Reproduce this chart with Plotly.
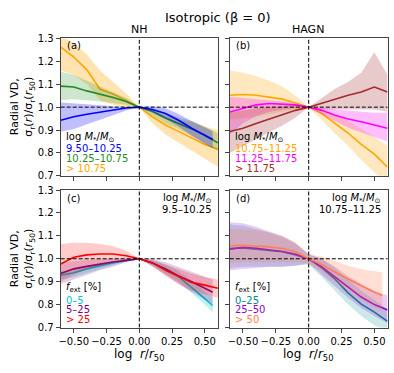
import plotly.graph_objects as go

# ---------------------------------------------------------------------------
# Data
# ---------------------------------------------------------------------------

X_FULL = [-0.6, -0.5, -0.4, -0.3, -0.2, -0.1, 0.0, 0.1, 0.2, 0.3, 0.4, 0.5, 0.6]
X_SHORT = [-0.6, -0.5, -0.4, -0.3, -0.2, -0.1, 0.0, 0.1, 0.2, 0.3, 0.4, 0.5, 0.56]

# (a) NH, mass bins
A_LOW = [0.943, 0.958, 0.969, 0.979, 0.989, 0.996, 1.0, 0.99, 0.972, 0.943, 0.908, 0.876, 0.859]
A_LOW_HI = [1.02, 1.018, 1.013, 1.008, 1.004, 1.001, 1.0, 1.005, 0.995, 0.97, 0.94, 0.91, 0.895]
A_LOW_LO = [0.893, 0.905, 0.925, 0.945, 0.965, 0.985, 1.0, 0.975, 0.948, 0.915, 0.875, 0.84, 0.82]

A_MID = [1.092, 1.088, 1.071, 1.057, 1.042, 1.025, 1.0, 0.982, 0.953, 0.929, 0.905, 0.877, 0.844]
A_MID_HI = [1.155, 1.14, 1.115, 1.09, 1.068, 1.04, 1.0, 0.995, 0.975, 0.955, 0.94, 0.915, 0.885]
A_MID_LO = [1.03, 1.035, 1.03, 1.025, 1.018, 1.01, 1.0, 0.965, 0.93, 0.905, 0.875, 0.84, 0.81]

A_HIGH = [1.262, 1.219, 1.163, 1.078, 1.057, 1.028, 1.0, 0.958, 0.922, 0.894, 0.866, 0.837, 0.816]
A_HIGH_HI = [1.31, 1.28, 1.23, 1.16, 1.11, 1.06, 1.0, 0.985, 0.965, 0.945, 0.935, 0.915, 0.9]
A_HIGH_LO = [1.16, 1.14, 1.1, 1.03, 1.01, 0.995, 1.0, 0.93, 0.88, 0.845, 0.81, 0.775, 0.74]

# (b) HAGN, mass bins
B_LOW = [1.052, 1.055, 1.052, 1.045, 1.035, 1.018, 1.0, 0.972, 0.929, 0.887, 0.837, 0.795, 0.738]
B_LOW_HI = [1.16, 1.15, 1.135, 1.115, 1.09, 1.05, 1.0, 0.995, 0.97, 0.94, 0.905, 0.87, 0.83]
B_LOW_LO = [0.945, 0.95, 0.96, 0.97, 0.98, 0.99, 1.0, 0.945, 0.885, 0.83, 0.77, 0.715, 0.655]

B_MID = [0.979, 0.996, 1.01, 1.016, 1.014, 1.01, 1.0, 0.986, 0.965, 0.948, 0.936, 0.922, 0.908]
B_MID_HI = [1.045, 1.04, 1.035, 1.03, 1.025, 1.015, 1.0, 1.0, 0.99, 0.985, 0.98, 0.975, 0.975]
B_MID_LO = [0.88, 0.93, 0.96, 0.98, 0.99, 0.995, 1.0, 0.97, 0.94, 0.91, 0.89, 0.87, 0.85]

B_HIGH = [0.894, 0.908, 0.929, 0.948, 0.967, 0.986, 1.0, 1.018, 1.035, 1.052, 1.066, 1.088, 1.066]
B_HIGH_HI = [0.975, 0.985, 0.995, 1.0, 1.005, 1.01, 1.0, 1.04, 1.08, 1.11, 1.15, 1.24, 1.14]
B_HIGH_LO = [0.8, 0.83, 0.86, 0.89, 0.92, 0.955, 1.0, 0.99, 0.99, 0.99, 0.99, 0.99, 0.98]

# (c) NH, 9.5-10.25, f_ext bins
C_LOW = [0.928, 0.939, 0.956, 0.97, 0.982, 0.992, 1.0, 0.982, 0.956, 0.922, 0.876, 0.826, 0.795]
C_LOW_HI = [0.945, 0.955, 0.97, 0.982, 0.99, 0.997, 1.0, 0.995, 0.975, 0.945, 0.905, 0.86, 0.83]
C_LOW_LO = [0.91, 0.92, 0.94, 0.955, 0.972, 0.988, 1.0, 0.97, 0.935, 0.9, 0.85, 0.8, 0.765]

C_MID = [0.936, 0.956, 0.967, 0.977, 0.986, 0.993, 1.0, 0.982, 0.956, 0.925, 0.9, 0.871, 0.854]
C_MID_HI = [0.98, 0.99, 0.995, 0.998, 1.0, 1.0, 1.0, 1.0, 0.985, 0.965, 0.945, 0.925, 0.91]
C_MID_LO = [0.89, 0.91, 0.93, 0.95, 0.965, 0.985, 1.0, 0.965, 0.93, 0.89, 0.855, 0.82, 0.8]

C_HIGH = [0.977, 1.007, 1.017, 1.021, 1.021, 1.013, 1.0, 0.982, 0.95, 0.922, 0.897, 0.885, 0.871]
C_HIGH_HI = [1.065, 1.07, 1.07, 1.065, 1.055, 1.035, 1.0, 0.995, 0.975, 0.955, 0.935, 0.92, 0.91]
C_HIGH_LO = [0.9, 0.93, 0.955, 0.97, 0.985, 0.99, 1.0, 0.97, 0.925, 0.89, 0.86, 0.845, 0.83]

# (d) HAGN, 10.75-11.25, f_ext bins
D_LOW = [1.045, 1.047, 1.042, 1.038, 1.031, 1.017, 1.0, 0.96, 0.911, 0.851, 0.802, 0.767, 0.727]
D_LOW_HI = [1.15, 1.145, 1.13, 1.115, 1.095, 1.065, 1.02, 1.0, 0.96, 0.91, 0.86, 0.82, 0.78]
D_LOW_LO = [0.96, 0.965, 0.965, 0.965, 0.965, 0.97, 0.975, 0.92, 0.86, 0.8, 0.75, 0.71, 0.68]

D_MID = [1.042, 1.05, 1.046, 1.039, 1.032, 1.02, 1.0, 0.965, 0.922, 0.875, 0.833, 0.8, 0.776]
D_MID_HI = [1.16, 1.155, 1.14, 1.12, 1.1, 1.07, 1.02, 1.0, 0.965, 0.925, 0.89, 0.86, 0.84]
D_MID_LO = [0.95, 0.955, 0.96, 0.965, 0.965, 0.97, 0.98, 0.93, 0.88, 0.83, 0.785, 0.75, 0.72]

D_HIGH = [1.057, 1.059, 1.055, 1.052, 1.045, 1.031, 1.0, 0.975, 0.942, 0.911, 0.882, 0.854, 0.84]
D_HIGH_HI = [1.13, 1.13, 1.125, 1.115, 1.1, 1.07, 1.02, 1.01, 0.99, 0.97, 0.955, 0.945, 0.94]
D_HIGH_LO = [0.98, 0.985, 0.985, 0.985, 0.985, 0.985, 0.98, 0.945, 0.9, 0.86, 0.82, 0.79, 0.77]

X_TICKS = [-0.5, -0.25, 0.0, 0.25, 0.5]
X_TICK_TEXT = ["\u22120.50", "\u22120.25", "0.00", "0.25", "0.50"]
Y_TICKS = [0.7, 0.8, 0.9, 1.0, 1.1, 1.2, 1.3]

# ---------------------------------------------------------------------------
# Style
# ---------------------------------------------------------------------------

W, H = 394, 373
FONT = "DejaVu Sans"
FRAME = "#444444"
DASH = "4px,2px"

BLUE = (0, 0, 255)
GREEN = (34, 139, 34)
ORANGE = (255, 165, 0)
MAGENTA = (255, 0, 255)
BROWN = (165, 42, 42)
CYAN = (0, 200, 205)
PURPLE = (128, 0, 128)
RED = (255, 0, 0)
TEAL = (0, 139, 139)
VIOLET = (148, 0, 211)
CORAL = (255, 127, 80)


def rgb(c, a=1.0):
    return f"rgba({c[0]},{c[1]},{c[2]},{a})"


def px_x(p):
    return p / W


def px_y(p):
    return 1 - p / H


# panel boxes in pixels: left, right, top, bottom
PANELS = [
    (59, 217, 34.5, 176),
    (229, 387.5, 34.5, 176),
    (59, 217, 190.7, 332.3),
    (229, 387.5, 190.7, 332.3),
]

fig = go.Figure()


def add_curve(idx, x, y, lo, hi, color, band_alpha=0.3):
    ax = "" if idx == 1 else str(idx)
    fig.add_trace(go.Scatter(
        x=x + x[::-1], y=hi + lo[::-1],
        fill="toself", fillcolor=rgb(color, band_alpha),
        line=dict(width=0), mode="lines", hoverinfo="skip",
        xaxis="x" + ax, yaxis="y" + ax, showlegend=False,
    ))
    fig.add_trace(go.Scatter(
        x=x, y=y, mode="lines", line=dict(color=rgb(color), width=1.6),
        xaxis="x" + ax, yaxis="y" + ax, showlegend=False,
    ))


add_curve(1, X_FULL, A_HIGH, A_HIGH_LO, A_HIGH_HI, ORANGE)
add_curve(1, X_FULL, A_MID, A_MID_LO, A_MID_HI, GREEN, 0.22)
add_curve(1, X_SHORT, A_LOW, A_LOW_LO, A_LOW_HI, BLUE, 0.25)

add_curve(2, X_FULL, B_LOW, B_LOW_LO, B_LOW_HI, ORANGE, 0.25)
add_curve(2, X_FULL, B_MID, B_MID_LO, B_MID_HI, MAGENTA, 0.25)
add_curve(2, X_FULL, B_HIGH, B_HIGH_LO, B_HIGH_HI, BROWN, 0.25)

add_curve(3, X_SHORT, C_LOW, C_LOW_LO, C_LOW_HI, CYAN, 0.25)
add_curve(3, X_SHORT, C_MID, C_MID_LO, C_MID_HI, PURPLE, 0.2)
add_curve(3, X_FULL, C_HIGH, C_HIGH_LO, C_HIGH_HI, RED, 0.2)

add_curve(4, X_FULL, D_LOW, D_LOW_LO, D_LOW_HI, TEAL, 0.2)
add_curve(4, X_FULL, D_MID, D_MID_LO, D_MID_HI, VIOLET, 0.2)
add_curve(4, X_SHORT, D_HIGH, D_HIGH_LO, D_HIGH_HI, CORAL, 0.25)

layout = dict(
    width=W, height=H,
    margin=dict(l=0, r=0, t=0, b=0),
    paper_bgcolor="white", plot_bgcolor="white",
    font=dict(family=FONT, size=10, color="black"),
    showlegend=False,
)

shapes = []
for i, (l, r, t, b) in enumerate(PANELS, start=1):
    ax = "" if i == 1 else str(i)
    common = dict(showgrid=False, zeroline=False, showline=True, mirror=True,
                  linecolor=FRAME, linewidth=1, ticks="outside", ticklen=4,
                  tickwidth=1, tickcolor=FRAME, tickfont=dict(size=10, color="black"))
    layout["xaxis" + ax] = dict(
        common, domain=[px_x(l), px_x(r)], range=[-0.6, 0.6],
        tickvals=X_TICKS, ticktext=X_TICK_TEXT, showticklabels=i >= 3,
        anchor="y" + ax,
    )
    layout["yaxis" + ax] = dict(
        common, domain=[px_y(b), px_y(t)], range=[0.7, 1.3],
        tickvals=Y_TICKS, tickformat=".1f", showticklabels=i in (1, 3),
        anchor="x" + ax,
    )
    shapes.append(dict(type="line", xref="x" + ax, yref="y" + ax + " domain",
                       x0=0, x1=0, y0=0, y1=1,
                       line=dict(color="black", width=1, dash=DASH)))
    shapes.append(dict(type="line", xref="x" + ax + " domain", yref="y" + ax,
                       x0=0, x1=1, y0=1.0, y1=1.0,
                       line=dict(color="black", width=1, dash=DASH)))

layout["shapes"] = shapes

MASS = "log <i>M</i><sub>*</sub>/<i>M</i><sub>\u2299</sub>"
FEXT = "<i>f</i><sub>ext</sub> [%]"


def note(text, x, y, color="black", size=10, xanchor="left", yanchor="middle", **kw):
    return dict(text=text, x=px_x(x), y=px_y(y), xref="paper", yref="paper",
                xanchor=xanchor, yanchor=yanchor, showarrow=False,
                font=dict(size=size, color=color, family=FONT), **kw)


annotations = [
    note("Isotropic (\u03b2 = 0)", 217, 13, size=13, xanchor="center"),
    note("NH", 138, 25, size=11, xanchor="center"),
    note("HAGN", 308, 25, size=11, xanchor="center"),
    note("(a)", 63, 42), note("(b)", 233, 42),
    note("(c)", 63, 199), note("(d)", 233, 199),
    # panel (a) legend
    note(MASS, 62, 137),
    note("9.50\u201310.25", 62, 148, rgb(BLUE)),
    note("10.25\u201310.75", 62, 158, rgb(GREEN)),
    note("> 10.75", 62, 168, rgb(ORANGE)),
    # panel (b) legend
    note(MASS, 232, 137),
    note("10.75\u201311.25", 232, 148, rgb(ORANGE)),
    note("11.25\u201311.75", 232, 158, rgb(MAGENTA)),
    note("> 11.75", 232, 168, rgb(BROWN)),
    # panel (c)
    note(MASS, 213, 199, xanchor="right"),
    note("9.5\u201310.25", 213, 211, xanchor="right"),
    note(FEXT, 62, 291.5),
    note("0\u20135", 62, 304, rgb(CYAN)),
    note("5\u201325", 62, 314, rgb(PURPLE)),
    note("> 25", 62, 324, rgb(RED)),
    # panel (d)
    note(MASS, 383, 199, xanchor="right"),
    note("10.75\u201311.25", 383, 211, xanchor="right"),
    note(FEXT, 232, 291.5),
    note("0\u201325", 232, 304, rgb(TEAL)),
    note("25\u201350", 232, 314, rgb(VIOLET)),
    note("> 50", 232, 324, rgb(CORAL)),
    # axis titles
    note("log  <i>r</i>/<i>r</i><sub>50</sub>", 138, 350, size=12,
         xanchor="center", yanchor="top"),
    note("log  <i>r</i>/<i>r</i><sub>50</sub>", 308, 350, size=12,
         xanchor="center", yanchor="top"),
]

YTITLE = "Radial VD,<br>\u03c3<sub>r</sub>(<i>r</i>)/\u03c3<sub>r</sub>(<i>r</i><sub>50</sub>)"
for yc in (105, 261.5):
    annotations.append(dict(
        text=YTITLE, x=px_x(21), y=px_y(yc), xref="paper", yref="paper",
        xanchor="center", yanchor="middle", showarrow=False, textangle=-90,
        font=dict(size=11, color="black", family=FONT),
    ))

layout["annotations"] = annotations
fig.update_layout(**layout)

fig.write_html("out.html", config={"displayModeBar": False},
               post_script="document.body.style.margin='0';")
